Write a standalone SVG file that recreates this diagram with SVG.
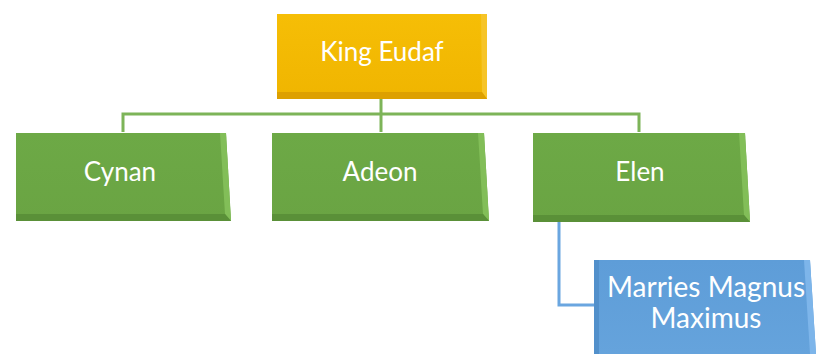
<svg xmlns="http://www.w3.org/2000/svg" width="816" height="354" viewBox="0 0 816 354">
<defs>
<linearGradient id="gold" x1="0" y1="0" x2="0" y2="1">
<stop offset="0" stop-color="#F6BE06"/><stop offset="1" stop-color="#F0B500"/>
</linearGradient>
<linearGradient id="green" x1="0" y1="0" x2="0" y2="1">
<stop offset="0" stop-color="#6DA946"/><stop offset="1" stop-color="#6AA443"/>
</linearGradient>
<linearGradient id="blue" x1="0" y1="0" x2="0" y2="1">
<stop offset="0" stop-color="#5E9DD8"/><stop offset="1" stop-color="#65A3DC"/>
</linearGradient>
</defs>
<style>
.t{font-family:"Lato","Open Sans","Liberation Sans",sans-serif;fill:#ffffff;text-anchor:middle;font-size:26px}
.gl{fill:none;stroke:#7DB458;stroke-width:3}
.bl{fill:none;stroke:#6AA6E0;stroke-width:3}
</style>
<g id="connectors">
<path class="gl" d="M381 98 V132"/>
<path class="gl" d="M123 132 V114 H639 V132"/>
<path class="bl" d="M559 222 V305 H596"/>
</g>
<g id="king">
<rect x="277" y="14" width="210" height="85" fill="url(#gold)"/>
<polygon points="481,14 487,14 487,99 482,92" fill="#F6C428"/>
<polygon points="277,92 482,92 487,99 277,99" fill="#DDA000"/>
<text class="t" x="382" y="61">King Eudaf</text>
</g>
<g id="cynan">
<polygon points="16,133 226,133 231,221 16,221" fill="url(#green)"/>
<polygon points="220,133 226,133 231,221 225,214" fill="#82BE58"/>
<polygon points="16,214 225,214 231,221 16,221" fill="#5A9038"/>
<text class="t" x="120" y="181">Cynan</text>
</g>
<g id="adeon">
<polygon points="272,133 484,133 489,221 272,221" fill="url(#green)"/>
<polygon points="478,133 484,133 489,221 483,214" fill="#82BE58"/>
<polygon points="272,214 483,214 489,221 272,221" fill="#5A9038"/>
<text class="t" x="380" y="181">Adeon</text>
</g>
<g id="elen">
<polygon points="533,133 745,133 750,222 533,222" fill="url(#green)"/>
<polygon points="739,133 745,133 750,222 744,215" fill="#82BE58"/>
<polygon points="533,215 744,215 750,222 533,222" fill="#5A9038"/>
<text class="t" x="640" y="181">Elen</text>
</g>
<g id="magnus">
<polygon points="594,260 810,260 816,354 594,354" fill="url(#blue)"/>
<polygon points="804,260 810,260 816,354 810,354" fill="#7DB5EA"/>
<polygon points="594,260 599,260 599,354 594,354" fill="#5290CB"/>
<text class="t" x="706" y="297" style="font-size:28px">Marries Magnus</text>
<text class="t" x="706" y="328" style="font-size:28px">Maximus</text>
</g>
</svg>
